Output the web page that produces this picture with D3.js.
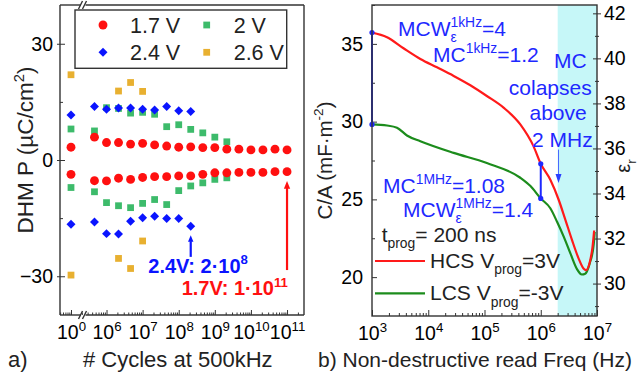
<!DOCTYPE html>
<html>
<head>
<meta charset="utf-8">
<script src="https://cdn.jsdelivr.net/npm/d3@7"></script>
<style>
  body { margin: 0; background: #fff; }
  svg { font-family: "Liberation Sans", Arial, sans-serif; }
</style>
</head>
<body>
<svg id="chart" width="638" height="374"></svg>
<script>
// ---- panel a: DHM polarisation vs cycles ----
const cycles = [1, 4.64e5, 1e6, 2.15e6, 4.64e6, 1e7, 2.15e7, 4.64e7, 1e8, 2.15e8, 4.64e8,
  1e9, 2.15e9, 4.64e9, 1e10, 2.15e10, 4.64e10, 1e11];
const p17Up = [3.3, 5.9, 4.5, 4.5, 4.1, 4.3, 3.9, 3.6, 3.3, 3.4, 3.2, 3.2, 2.8, 2.8, 2.6, 2.6, 2.8, 2.6];
const p17Dn = [-3.7, -5.35, -5.4, -4.7, -5.0, -4.5, -4.3, -4.3, -4.1, -4.1, -3.7, -3.3, -3.3, -3.2, -3.2, -3.2, -3.0, -3.0];
const p20Up = [8.0, 7.5, 13.5, 13.3, 12.1, 12.3, 11.8, 8.6, 9.1, 7.9, 7.0, 5.9, 4.7];
const p20Dn = [-7.1, -8.2, -11.0, -11.8, -12.3, -11.2, -10.2, -11.5, -7.9, -6.7, -5.9, -5.0, -4.6];
const p24Up = [11.6, 13.8, 13.1, 13.4, 13.4, 13.1, 12.9, 13.8, 12.7, 12.5];
const p24Dn = [-16.6, -16.0, -19.0, -19.1, -15.8, -14.9, -14.5, -15.1, -15.1, -17.1];
const cycles26 = [1, 2.15e6, 4.64e6, 1e7];
const p26Up = [22.0, 17.8, 20.0, 17.7];
const p26Dn = [-29.7, -25.4, -28.0, -20.9];
const voltLabels = ["1.7 V", "2 V", "2.4 V", "2.6 V"];
const cycTicks = [1e6, 1e7, 1e8, 1e9, 1e10, 1e11];
const pTicks = [-30, 0, 30];

// ---- panel b: C/A vs read frequency ----
const hcsFreq = [1e3, 1.85e3, 3.63e3, 7.24e3, 1.43e4, 2.83e4, 5.6e4, 1.1e5, 2.18e5, 4.33e5, 7.45e5,
  1e6, 1.48e6, 2.09e6, 2.75e6, 3.6e6, 4.7e6, 5.75e6, 6.4e6, 7.6e6, 8.3e6, 8.9e6];
const hcsCA = [35.73, 35.43, 34.72, 34.03, 33.49, 32.94, 32.34, 31.65, 30.90, 29.82, 28.41,
  27.29, 26.26, 24.96, 23.67, 22.38, 21.21, 20.56, 20.45, 21.1, 21.9, 23.0];
const lcsFreq = [1e3, 1.85e3, 2.78e3, 4.18e3, 7.24e3, 2.83e4, 1.1e5, 4.33e5, 6.5e5,
  1e6, 1.48e6, 1.95e6, 2.57e6, 3.38e6, 4.37e6, 5.37e6, 6.17e6, 7.4e6, 8.7e6, 9.1e6];
const lcsCA = [29.82, 29.75, 29.61, 29.11, 28.74, 27.99, 27.34, 26.39, 25.87,
  25.06, 24.43, 23.56, 22.59, 21.51, 20.54, 20.17, 20.22, 20.87, 22.05, 22.91];
const freqTicks = [1e3, 1e4, 1e5, 1e6, 1e7];
const caTicks = [20, 25, 30, 35];
const epsTicks = [30, 32, 34, 36, 38, 40, 42];

const svg = d3.select("#chart");
const frameColor = "#333";
const cRed = "#ff1010", cGreen = "#3dbb6b", cBlue = "#0a14ff", cOrange = "#e8b030";
const cAnn = "#1e28ff";
const fsTick = 19.5, fsTitle = 22, fsA = 21;

function rich(sel, parts, fs) {
  let shift = 0;
  parts.forEach(([t, k, back]) => {
    const target = k === "sup" ? -0.42 * fs : k === "sub" ? 0.3 * fs : 0;
    const ts = sel.append("tspan")
      .attr("dy", target - shift)
      .attr("font-size", k === "n" ? fs : fs * 0.66)
      .text(t);
    if (back) {
      const prev = ts.node().previousSibling;
      ts.attr("dx", -prev.getComputedTextLength());
    }
    shift = target;
  });
  return sel;
}

function powLabels(g, fs) {
  g.selectAll(".tick text").each(function (d) {
    const t = d3.select(this);
    const e = Math.round(Math.log10(d));
    t.text(null).attr("font-size", fs);
    t.append("tspan").text("10");
    t.append("tspan").attr("dy", -0.42 * fs).attr("font-size", fs * 0.68).text(e);
  });
}

function minorLog(lo, hi) {
  const out = [];
  for (let k = -1; k <= 12; k++) {
    for (let m = 2; m <= 9; m++) {
      const v = m * Math.pow(10, k);
      if (v > lo && v < hi) out.push(v);
    }
  }
  return out;
}

// ================= panel a =================
const ya = d3.scaleLinear().domain([-40, 40]).range([315, 5]);
const xaL = d3.scaleLog().domain([Math.pow(10, -0.305), Math.pow(10, 0.305)]).range([60, 82]);
const xaR = d3.scaleLog().domain([Math.pow(10, 5.404), Math.pow(10, 11.47)]).range([85, 304]);
const xa = c => (c < 100 ? xaL(c) : xaR(c));

const ga = svg.append("g");

// x axes (broken)
ga.append("g").attr("transform", "translate(0,315)")
  .call(d3.axisBottom(xaL).tickValues([1]).tickSize(-5).tickPadding(10))
  .call(g => powLabels(g, fsTick));
ga.append("g").attr("transform", "translate(0,315)")
  .call(d3.axisBottom(xaL).tickValues([0.5, 0.6, 0.7, 0.8, 0.9, 2]).tickSize(-2.5).tickFormat(""));
ga.append("g").attr("transform", "translate(0,315)")
  .call(d3.axisBottom(xaR).tickValues(cycTicks).tickSize(-5).tickPadding(10))
  .call(g => powLabels(g, fsTick));
ga.append("g").attr("transform", "translate(0,315)")
  .call(d3.axisBottom(xaR).tickValues(minorLog(xaR.domain()[0], xaR.domain()[1])).tickSize(-2.5).tickFormat(""));

// y axis
ga.append("g").attr("transform", "translate(60,0)")
  .call(d3.axisLeft(ya).tickValues(pTicks).tickSize(3).tickPadding(4))
  .call(g => g.selectAll(".tick line").attr("x2", 5).attr("x1", -3))
  .call(g => g.selectAll(".tick text").attr("font-size", fsTick));
ga.append("g").attr("transform", "translate(60,0)")
  .call(d3.axisLeft(ya).tickValues([-15, 15]).tickSize(-3).tickFormat(""));

ga.selectAll(".domain").remove();
ga.selectAll(".tick line").attr("stroke", frameColor).attr("stroke-width", 1);

// frame with break
const fa = ga.append("g").attr("stroke", frameColor).attr("stroke-width", 1.4).attr("fill", "none");
fa.append("line").attr("x1", 60).attr("x2", 60).attr("y1", 5).attr("y2", 315);
fa.append("line").attr("x1", 304).attr("x2", 304).attr("y1", 5).attr("y2", 315);
[5, 315].forEach(y => {
  fa.append("line").attr("x1", 60).attr("x2", 81).attr("y1", y).attr("y2", y);
  fa.append("line").attr("x1", 85.5).attr("x2", 304).attr("y1", y).attr("y2", y);
  fa.append("line").attr("x1", 78.5).attr("x2", 82.5).attr("y1", y + 4).attr("y2", y - 4);
  fa.append("line").attr("x1", 82.5).attr("x2", 86.5).attr("y1", y + 4).attr("y2", y - 4);
});

// markers
const sq = d3.symbol().type(d3.symbolSquare).size(46);
const dia = d3.symbol().type(d3.symbolSquare).size(40);
const circ = d3.symbol().type(d3.symbolCircle).size(62);

function plotSeries(xs, vals, gen, color, rot) {
  ga.append("g").selectAll("path").data(vals).join("path")
    .attr("d", gen)
    .attr("fill", color)
    .attr("transform", (d, i) => `translate(${xa(xs[i])},${ya(d)})${rot ? " rotate(45)" : ""}`);
}
plotSeries(cycles26, p26Up, sq, cOrange);
plotSeries(cycles26, p26Dn, sq, cOrange);
plotSeries(cycles, p20Up, sq, cGreen);
plotSeries(cycles, p20Dn, sq, cGreen);
plotSeries(cycles, p24Up, dia, cBlue, true);
plotSeries(cycles, p24Dn, dia, cBlue, true);
plotSeries(cycles, p17Up, circ, cRed);
plotSeries(cycles, p17Dn, circ, cRed);

// legend
const lg = ga.append("g");
lg.append("rect").attr("x", 75).attr("y", 10).attr("width", 211.7).attr("height", 58.3)
  .attr("fill", "#fff").attr("stroke", frameColor).attr("stroke-width", 1.4);
const legItems = [
  {gen: circ, color: cRed, x: 103, y: 25, rot: false},
  {gen: sq, color: cGreen, x: 206.7, y: 25, rot: false},
  {gen: dia, color: cBlue, x: 103, y: 52.3, rot: true},
  {gen: sq, color: cOrange, x: 206.7, y: 52.3, rot: false}
];
legItems.forEach((it, i) => {
  lg.append("path").attr("d", it.gen).attr("fill", it.color)
    .attr("transform", `translate(${it.x},${it.y})${it.rot ? " rotate(45)" : ""}`);
  lg.append("text").attr("x", it.x + 27).attr("y", it.y + 8).attr("font-size", 21.5).attr("fill", "#222")
    .text(voltLabels[i]);
});

// endurance arrows
function arrow(g, x, y1, y2, color, w, head) {
  g.append("line").attr("x1", x).attr("x2", x).attr("y1", y1).attr("y2", y2 + head)
    .attr("stroke", color).attr("stroke-width", w);
  g.append("path")
    .attr("d", `M${x},${y2} L${x - head * 0.45},${y2 + head * 1.1} L${x + head * 0.45},${y2 + head * 1.1} Z`)
    .attr("fill", color);
}
arrow(ga, xa(1e11), ya(-28.4), ya(-5.4), cRed, 2.2, 7);
arrow(ga, xa(2.15e8), ya(-25), ya(-19.4), cBlue, 2.2, 6);

rich(ga.append("text").attr("x", 148.3).attr("y", 272.7).attr("fill", cBlue).attr("font-weight", "bold"),
  [["2.4V: 2·10", "n"], ["8", "sup"]], 20);
rich(ga.append("text").attr("x", 181.7).attr("y", 295).attr("fill", cRed).attr("font-weight", "bold"),
  [["1.7V: 1·10", "n"], ["11", "sup"]], 20);

// titles
rich(ga.append("text").attr("transform", "translate(33,150) rotate(-90)").attr("text-anchor", "middle")
  .attr("fill", "#222"), [["DHM P (µC/cm", "n"], ["2", "sup"], [")", "n"]], 22.5);
ga.append("text").attr("x", 8).attr("y", 366.7).attr("font-size", fsTitle).attr("fill", "#222").text("a)");
ga.append("text").attr("x", 83).attr("y", 366.7).attr("font-size", fsTitle).attr("fill", "#222").text("# Cycles at 500kHz");

// ================= panel b =================
const xb = d3.scaleLog().domain([1e3, 1e7]).range([372, 597]);
const yb = d3.scaleLinear().domain([17.5, 37.5]).range([316, 5]);
const yr = d3.scaleLinear().domain([28.56, 42.37]).range([316, 5]);

const gb = svg.append("g");
gb.append("rect").attr("x", xb(2e6)).attr("y", 5).attr("width", xb(1e7) - xb(2e6)).attr("height", 311)
  .attr("fill", "#c6f7f8");

gb.append("g").attr("transform", "translate(0,316)")
  .call(d3.axisBottom(xb).tickValues(freqTicks).tickSize(-6).tickPadding(10))
  .call(g => powLabels(g, fsTick));
gb.append("g").attr("transform", "translate(0,316)")
  .call(d3.axisBottom(xb).tickValues(minorLog(1e3, 1e7)).tickSize(-3).tickFormat(""));

gb.append("g").attr("transform", "translate(372,0)")
  .call(d3.axisLeft(yb).tickValues(caTicks).tickSize(-5).tickPadding(9))
  .call(g => g.selectAll(".tick text").attr("font-size", fsTick));
gb.append("g").attr("transform", "translate(372,0)")
  .call(d3.axisLeft(yb).tickValues([22.5, 27.5, 32.5, 37.5]).tickSize(-3).tickFormat(""));

gb.append("g").attr("transform", "translate(597,0)")
  .call(d3.axisRight(yr).tickValues(epsTicks).tickSize(4).tickPadding(3))
  .call(g => g.selectAll(".tick line").attr("x1", -4))
  .call(g => g.selectAll(".tick text").attr("font-size", fsTick));
gb.append("g").attr("transform", "translate(597,0)")
  .call(d3.axisRight(yr).tickValues([29, 31, 33, 35, 37, 39, 41]).tickSize(2).tickFormat(""))
  .call(g => g.selectAll(".tick line").attr("x1", -2));

gb.selectAll(".domain").remove();
gb.selectAll(".tick line").attr("stroke", frameColor).attr("stroke-width", 1);

// curves
svg.append("defs").append("clipPath").attr("id", "clipb")
  .append("rect").attr("x", 372).attr("y", 5).attr("width", 225).attr("height", 311);
const line = d3.line().x(d => xb(d[0])).y(d => yb(d[1])).curve(d3.curveMonotoneX);
const curves = gb.append("g").attr("clip-path", "url(#clipb)").attr("fill", "none").attr("stroke-width", 2.2);
curves.append("path").attr("d", line(lcsFreq.map((f, i) => [f, lcsCA[i]]))).attr("stroke", "#1c8c1c");
curves.append("path").attr("d", line(hcsFreq.map((f, i) => [f, hcsCA[i]]))).attr("stroke", "#ff1a1a");

// memory-window markers
[[1e3, hcsCA[0], lcsCA[0]], [1e6, hcsCA[11], lcsCA[9]]].forEach(([f, a, b]) => {
  gb.append("line").attr("x1", xb(f)).attr("x2", xb(f)).attr("y1", yb(a)).attr("y2", yb(b))
    .attr("stroke", cAnn).attr("stroke-width", 2);
  [a, b].forEach(v => gb.append("circle").attr("cx", xb(f)).attr("cy", yb(v)).attr("r", 2.6).attr("fill", cAnn));
});

// thin arrow at 2 MHz
gb.append("line").attr("x1", xb(2.07e6)).attr("x2", xb(2.07e6)).attr("y1", yb(28.2)).attr("y2", yb(26.5))
  .attr("stroke", "#4a66ff").attr("stroke-width", 1);
gb.append("path")
  .attr("d", `M${xb(2.07e6)},${yb(26.05)} l-3,-9 l6,0 Z`).attr("fill", "#2a40ff");

// frame
gb.append("rect").attr("x", 372).attr("y", 5).attr("width", 225).attr("height", 311)
  .attr("fill", "none").attr("stroke", frameColor).attr("stroke-width", 1.4);

// annotations
rich(gb.append("text").attr("x", 398).attr("y", 35.7).attr("fill", cAnn),
  [["MCW", "n"], ["ε", "sub"], ["1kHz", "sup", true], ["=4", "n"]], fsA);
rich(gb.append("text").attr("x", 433).attr("y", 62).attr("fill", cAnn),
  [["MC", "n"], ["1kHz", "sup"], ["=1.2", "n"]], fsA);
[["MC", 586.7, 68], ["colapses", 591.7, 95], ["above", 586.7, 120], ["2 MHz", 592.7, 147]].forEach(([t, x, y]) => {
  gb.append("text").attr("x", x).attr("y", y).attr("text-anchor", "end").attr("font-size", fsA)
    .attr("fill", cAnn).text(t);
});
rich(gb.append("text").attr("x", 383).attr("y", 193).attr("fill", cAnn),
  [["MC", "n"], ["1MHz", "sup"], ["=1.08", "n"]], fsA);
rich(gb.append("text").attr("x", 403).attr("y", 217).attr("fill", cAnn),
  [["MCW", "n"], ["ε", "sub"], ["1MHz", "sup", true], ["=1.4", "n"]], fsA);
rich(gb.append("text").attr("x", 381.7).attr("y", 241.7).attr("fill", "#222"),
  [["t", "n"], ["prog", "sub"], ["= 200 ns", "n"]], fsA);

// legend b
[["#ff1a1a", 261, "HCS", "=3V"], ["#1c8c1c", 293.3, "LCS", "=-3V"]].forEach(([c, y, name, v]) => {
  gb.append("line").attr("x1", 375).attr("x2", 425).attr("y1", y).attr("y2", y)
    .attr("stroke", c).attr("stroke-width", 2.2);
  rich(gb.append("text").attr("x", 430).attr("y", y + 7).attr("fill", "#222"),
    [[name + " V", "n"], ["prog", "sub"], [v, "n"]], fsA);
});

// titles
rich(gb.append("text").attr("transform", "translate(332,160.5) rotate(-90)").attr("text-anchor", "middle")
  .attr("fill", "#222"), [["C/A (mF·m", "n"], ["-2", "sup"], [")", "n"]], 20.5);
rich(gb.append("text").attr("transform", "translate(630,166) rotate(-90)").attr("text-anchor", "middle")
  .attr("fill", "#222"), [["ε", "n"], ["r", "sub"]], 20);
gb.append("text").attr("x", 318).attr("y", 366.7).attr("font-size", 21).attr("fill", "#222")
  .text("b) Non-destructive read Freq (Hz)");
</script>
</body>
</html>
